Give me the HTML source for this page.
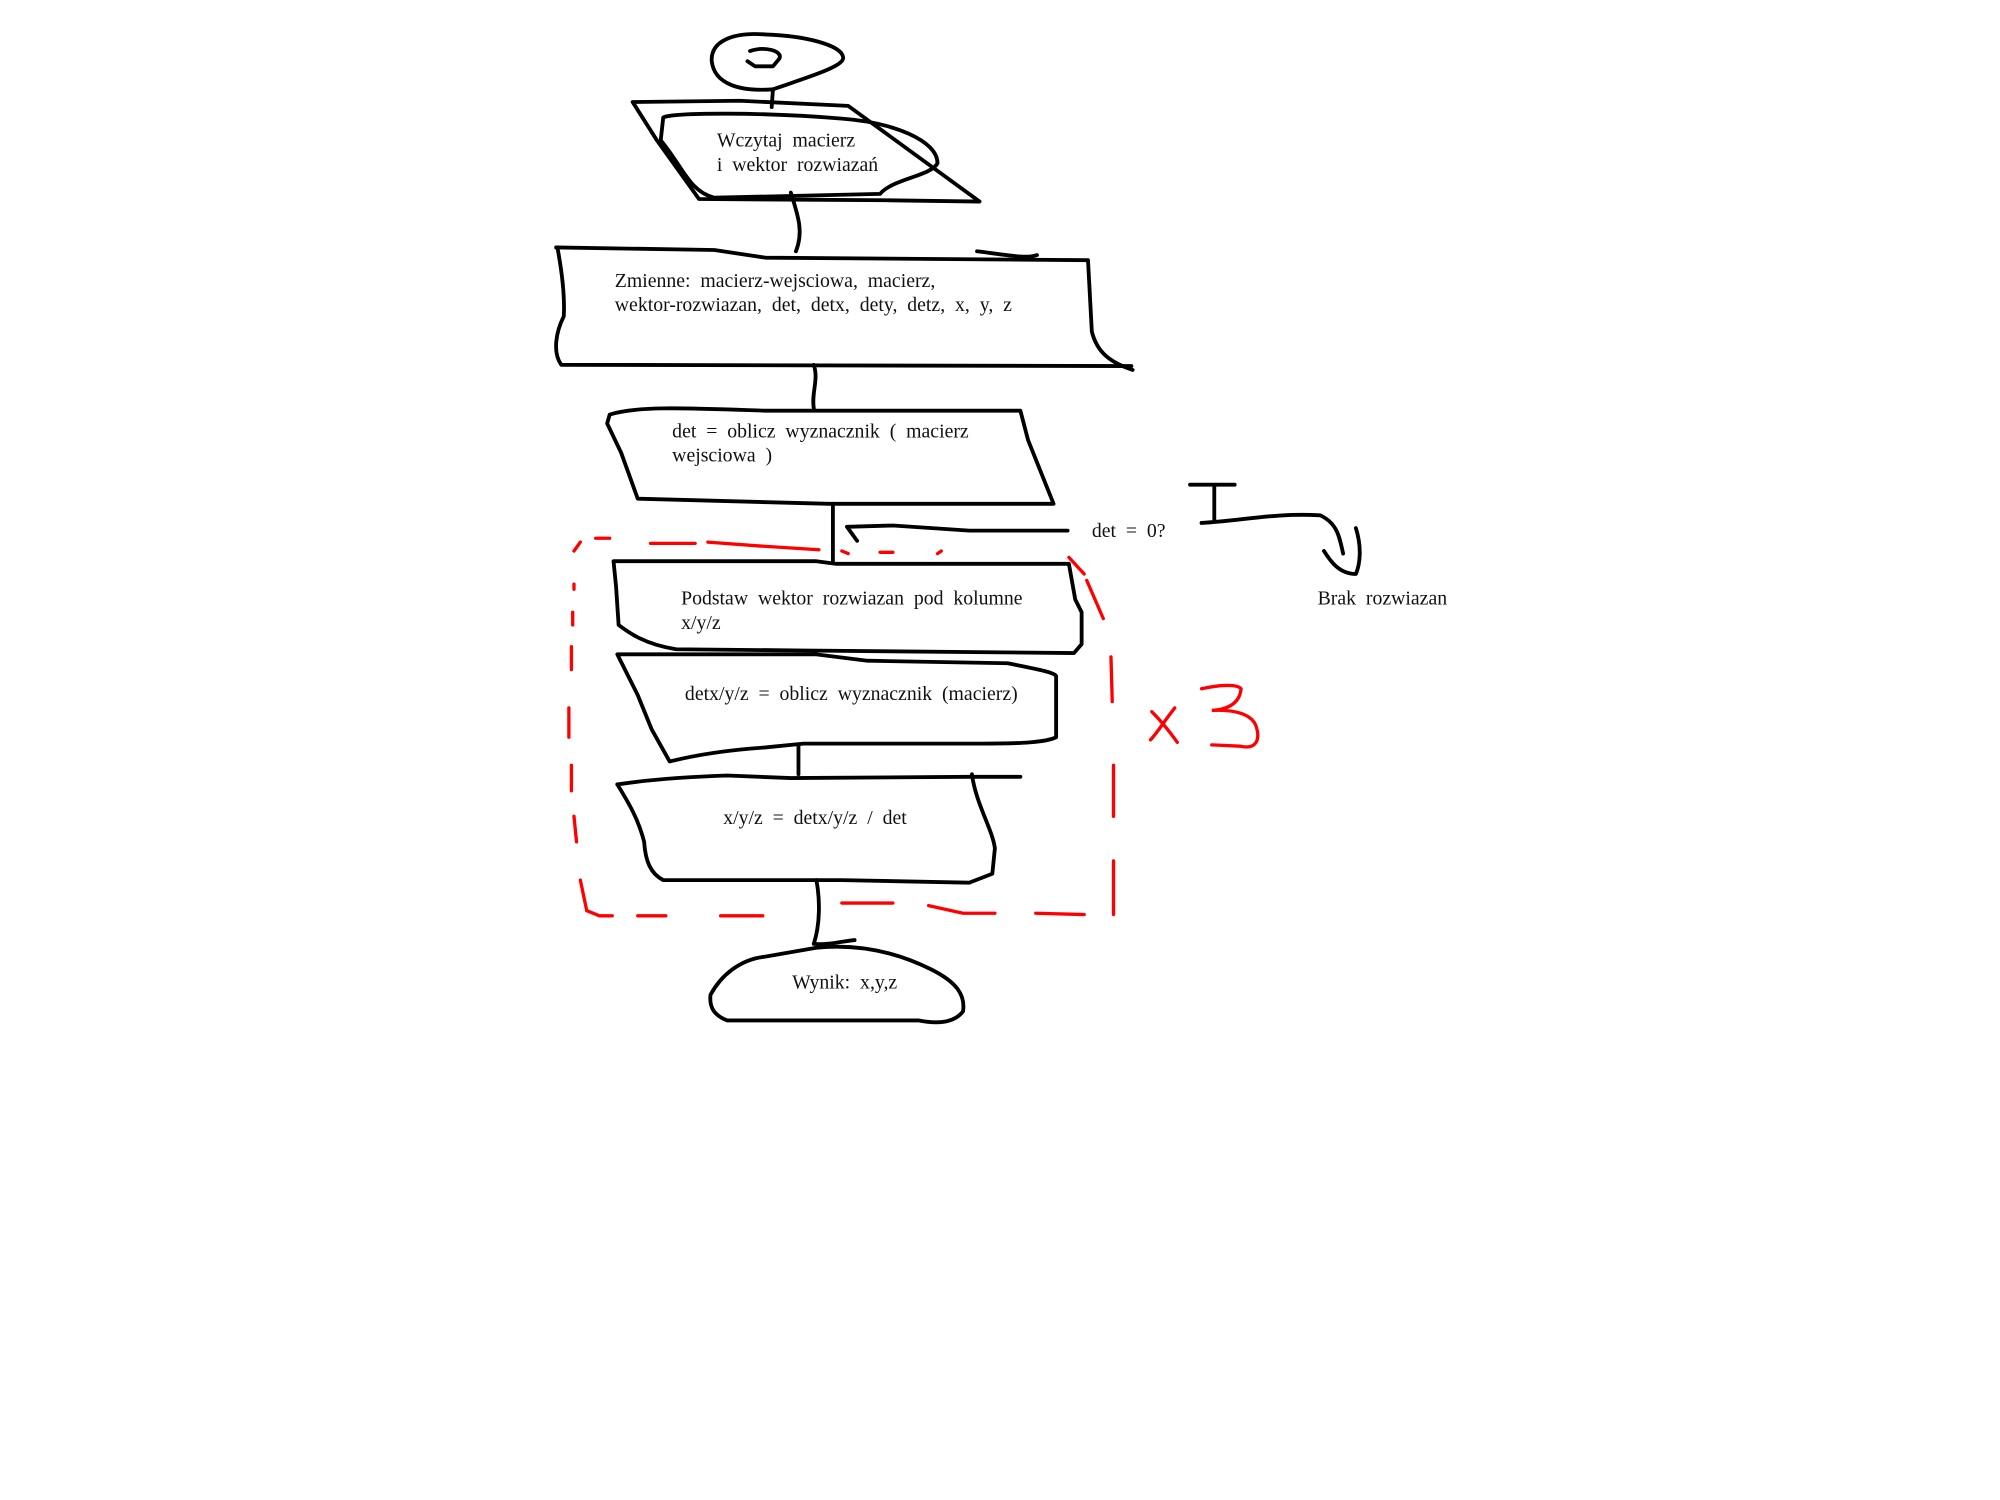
<!DOCTYPE html>
<html><head><meta charset="utf-8"><style>
html,body{margin:0;padding:0;background:#fff;}
svg{display:block;}
text{font-family:"Liberation Serif",serif;font-size:15.5px;fill:#111;white-space:pre;}
.k{fill:none;stroke:#000;stroke-width:3;stroke-linecap:round;stroke-linejoin:round;}
.r{fill:none;stroke:#f00;stroke-width:2.6;stroke-linecap:round;}
</style></head><body>
<svg width="2000" height="1500" viewBox="0 0 1568 1176" preserveAspectRatio="none" xmlns="http://www.w3.org/2000/svg" xml:space="preserve">
<!-- start -->
<path class="k" d="M606,70 C580,72 560,66 558,48 C557,32 575,25 600,27 C630,28 660,35 661,45 C662,52 635,60 606,70 Z"/>
<path class="k" d="M588,40 C600,36 614,40 611,46 L606,52 L592,52 L586,48"/>
<path class="k" d="M606,70 L605,84"/>
<!-- parallelogram -->
<path class="k" d="M496,80 L580,79 L665,83 L768,158 L695,157 L548,156 L515,110 Z"/>
<path class="k" d="M520,92 C530,88 600,88 660,93 C700,96 735,110 735,128 C730,138 700,140 690,152 L560,155 C540,150 535,130 518,110 Z"/>
<text x="562" y="115">Wczytaj  macierz</text>
<text x="562" y="134">i  wektor  rozwiazań</text>
<path class="k" d="M620,151 C626,170 630,182 624,197"/>
<!-- variables box -->
<path class="k" d="M436,194 L560,196 L600,202 L853,204 L856,260 C860,276 870,284 888,290"/>
<path class="k" d="M887,287 L440,286 C433,276 436,260 442,248 C443,230 440,210 437,194"/>
<path class="k" d="M766,197 C790,200 805,203 813,200"/>
<text x="482" y="225">Zmienne:  macierz-wejsciowa,  macierz,</text>
<text x="482" y="244">wektor-rozwiazan,  det,  detx,  dety,  detz,  x,  y,  z</text>
<path class="k" d="M638,286 C642,298 636,308 638,320"/>
<!-- det box -->
<path class="k" d="M478,325 C500,318 540,320 600,322 L800,322 L806,345 L826,395 L650,395 L500,391 L487,355 L476,332 Z"/>
<text x="527" y="343">det  =  oblicz  wyznacznik  (  macierz</text>
<text x="527" y="362">wejsciowa  )</text>
<path class="k" d="M653,395 L653,440"/>
<path class="k" d="M837,416 L760,416 L700,412 L664,413 L672,424"/>
<text x="856" y="421">det  =  0?</text>
<path class="k" d="M933,380 L968,380 M952,380 L952,408 M942,410 C975,408 1000,402 1035,404 C1048,410 1050,420 1053,434 M1063,414 C1068,430 1066,443 1063,450 C1050,450 1043,440 1038,432"/>
<text x="1033" y="474">Brak  rozwiazan</text>
<!-- loop boxes -->
<path class="k" d="M481,440 L640,440 L655,442 L838,442 L843,470 L848,480 L848,505 L842,512 L630,510 L530,509 C505,505 493,496 485,490 L483,460 Z"/>
<text x="534" y="474">Podstaw  wektor  rozwiazan  pod  kolumne</text>
<text x="534" y="493">x/y/z</text>
<path class="k" d="M484,513 L640,513 L680,518 L790,520 C815,525 826,527 828,530 L828,578 C820,582 800,583 770,583 L630,583 L600,586 C570,588 545,592 525,597 L511,572 L500,545 Z"/>
<text x="537" y="549">detx/y/z  =  oblicz  wyznacznik  (macierz)</text>
<path class="k" d="M626,584 L626,607"/>
<path class="k" d="M484,615 C510,611 540,609 570,608 L620,610 L760,609 L800,609"/>
<path class="k" d="M762,607 C765,630 778,650 780,665 L778,685 L760,692 L660,690 L520,690 C510,685 506,675 505,660 C500,640 490,625 484,615"/>
<text x="567" y="646">x/y/z  =  detx/y/z  /  det</text>
<path class="k" d="M640,690 C643,705 643,725 638,740 C650,741 660,738 670,737"/>
<!-- end terminator -->
<path class="k" d="M640,743 C670,740 700,745 730,760 C750,770 757,780 755,793 C748,802 735,803 720,800 L570,800 C560,796 556,790 557,780 C565,765 580,752 600,750 Z"/>
<text x="621" y="775">Wynik:  x,y,z</text>
<!-- red dashed loop -->
<path class="r" d="M450,432 L455,425 M467,422 L478,422 M510,426 L545,426 M555,425 L595,428 L642,431 M660,432 L665,434 M690,433 L700,433 M735,434 L738,432 M838,437 L850,450 M852,455 L865,485 M871,515 L872,550 M873,600 L873,640 M873,675 L873,717 M850,717 L812,716 M780,716 L755,716 L728,710 M700,708 L660,708 M598,718 L565,718 M522,718 L500,718 M480,718 L470,718 L460,714 L455,690 M452,660 L450,640 M448,620 L448,600 M446,578 L446,555 M448,525 L448,507 M449,490 L449,480 M450,462 L450,458"/>
<path class="r" d="M903,558 C910,565 918,575 923,582 M921,555 C913,565 907,575 902,580 M942,540 C955,537 970,536 973,540 C972,550 965,556 950,557 C968,556 982,560 985,570 C988,580 985,588 972,585 L950,584"/>
</svg>
</body></html>
